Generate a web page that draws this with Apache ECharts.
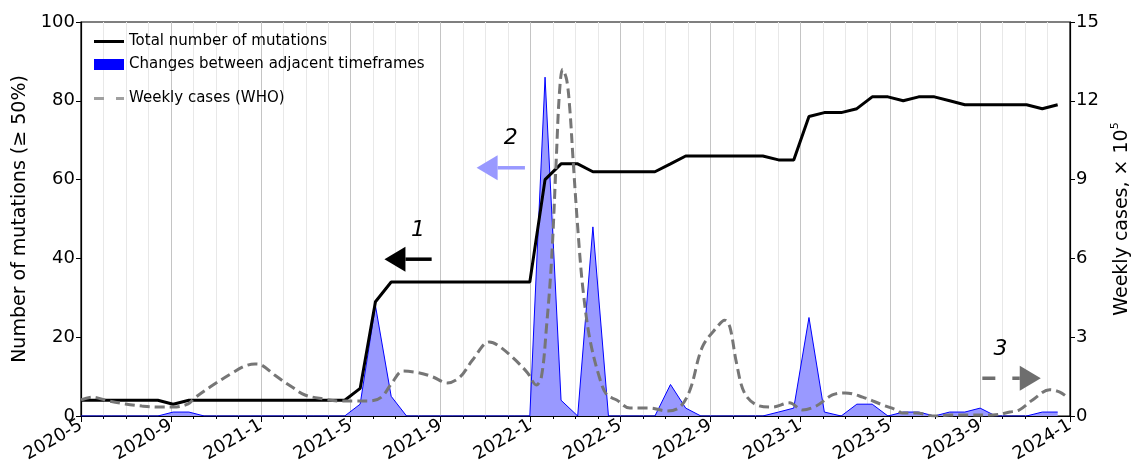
<!DOCTYPE html>
<html>
<head>
<meta charset="utf-8">
<script src="https://cdn.jsdelivr.net/npm/echarts@6/dist/echarts.min.js"></script>
<style>
  html, body { margin: 0; padding: 0; background: #fff; }
  #chart { width: 1131px; height: 471px; }
</style>
</head>
<body>
<div id="chart"></div>
<script>
// timeframes (3 weeks apart)
const frameDates = [
  '2020-05-01', '2020-05-22', '2020-06-12', '2020-07-03', '2020-07-24', '2020-08-14',
  '2020-09-04', '2020-09-25', '2020-10-16', '2020-11-06', '2020-11-27', '2020-12-18',
  '2021-01-08', '2021-01-29', '2021-02-19', '2021-03-12', '2021-04-02', '2021-04-23',
  '2021-05-14', '2021-06-04', '2021-06-25', '2021-07-16', '2021-08-06', '2021-08-27',
  '2021-09-17', '2021-10-08', '2021-10-29', '2021-11-19', '2021-12-10', '2021-12-31',
  '2022-01-21', '2022-02-11', '2022-03-04', '2022-03-25', '2022-04-15', '2022-05-06',
  '2022-05-27', '2022-06-17', '2022-07-08', '2022-07-29', '2022-08-19', '2022-09-09',
  '2022-09-30', '2022-10-21', '2022-11-11', '2022-12-02', '2022-12-23', '2023-01-13',
  '2023-02-03', '2023-02-24', '2023-03-17', '2023-04-07', '2023-04-28', '2023-05-19',
  '2023-06-09', '2023-06-30', '2023-07-21', '2023-08-11', '2023-09-01', '2023-09-22',
  '2023-10-13', '2023-11-03', '2023-11-24', '2023-12-15'
]
const totalMutations = [
  4, 4, 4, 4, 4, 4, 3, 4, 4, 4, 4, 4, 4, 4, 4, 4, 4, 4, 7, 29, 34, 34, 34, 34,
  34, 34, 34, 34, 34, 34, 60, 64, 64, 62, 62, 62, 62, 62, 64, 66, 66, 66, 66, 66,
  66, 65, 65, 76, 77, 77, 78, 81, 81, 80, 81, 81, 80, 79, 79, 79, 79, 79, 78, 79
]
const changes = [
  0, 0, 0, 0, 0, 0, 1, 1, 0, 0, 0, 0, 0, 0, 0, 0, 0, 0, 3, 28, 5, 0, 0, 0,
  0, 0, 0, 0, 0, 0, 86, 4, 0, 48, 0, 0, 0, 0, 8, 2, 0, 0, 0, 0,
  0, 1, 2, 25, 1, 0, 3, 3, 0, 1, 1, 0, 1, 1, 2, 0, 0, 0, 1, 1
]

// weekly cases (WHO), x 10^5
const weekDates = [
  '2020-05-01', '2020-05-16', '2020-06-07', '2020-06-30', '2020-07-23', '2020-08-14',
  '2020-09-04', '2020-09-24', '2020-10-03', '2020-10-26', '2020-11-23', '2020-12-10',
  '2020-12-24', '2021-01-02', '2021-01-20', '2021-02-12', '2021-02-28', '2021-03-25',
  '2021-04-17', '2021-05-04', '2021-05-27', '2021-06-12', '2021-06-26', '2021-07-11',
  '2021-08-03', '2021-08-21', '2021-09-10', '2021-09-27', '2021-10-14', '2021-11-06',
  '2021-11-17', '2021-12-08', '2021-12-28', '2022-01-09', '2022-01-16', '2022-01-23',
  '2022-01-30', '2022-02-05', '2022-02-09', '2022-02-13', '2022-02-18', '2022-02-22',
  '2022-02-26', '2022-03-04', '2022-03-11', '2022-03-21', '2022-04-04', '2022-04-13',
  '2022-04-26', '2022-05-14', '2022-06-10', '2022-07-03', '2022-07-21', '2022-08-04',
  '2022-08-21', '2022-09-10', '2022-09-20', '2022-09-27', '2022-10-06', '2022-10-17',
  '2022-11-03', '2022-11-24', '2022-12-17', '2023-01-04', '2023-01-23', '2023-02-13',
  '2023-03-01', '2023-03-25', '2023-04-21', '2023-05-10', '2023-05-18', '2023-06-06',
  '2023-07-01', '2023-07-21', '2023-08-13', '2023-09-18', '2023-10-11', '2023-10-24',
  '2023-11-11', '2023-12-04', '2023-12-18', '2023-12-28'
]
const weeklyCases = [
  0.61, 0.72, 0.58, 0.46, 0.38, 0.34, 0.34, 0.46, 0.69, 1.14, 1.64, 1.9,
  1.98, 1.94, 1.56, 1.1, 0.8, 0.65, 0.57, 0.57, 0.57, 0.72, 1.26, 1.71,
  1.64, 1.49, 1.26, 1.49, 2.13, 2.82, 2.7, 2.21, 1.64, 1.18, 1.49, 3.39,
  5.94, 9.75, 12.3, 13.2, 12.8, 11.65, 9.75, 7.2, 4.9, 2.9, 1.37, 0.8,
  0.61, 0.3, 0.3, 0.19, 0.34, 1.0, 2.63, 3.39, 3.65, 3.39, 2.02, 0.88,
  0.42, 0.34, 0.5, 0.23, 0.38, 0.8, 0.88, 0.72, 0.42, 0.23, 0.11, 0.11,
  0.0, 0.04, 0.04, 0.04, 0.15, 0.23, 0.61, 1.0, 0.91, 0.72
]

const xTickMonths = [0, 4, 8, 12, 16, 20, 24, 28, 32, 36, 40, 44]

// numbered arrows: label, tail/tip month, value on the left axis
const arrows = [
  { label: '1', tail: 15.6, tip: 13.5, y: 39.8, color: '#000000', dashed: false },
  { label: '2', tail: 19.75, tip: 17.6, y: 63, color: '#9999ff', dashed: false },
  { label: '3', tail: 40.1, tip: 42.7, y: 9.6, color: '#6e6e6e', dashed: true }
]

const FONT = 'DejaVu Sans'

// months since 2020-05-01
const toMonth = s => {
  const [y, m, d] = s.split('-').map(Number)
  const dim = new Date(y, m, 0).getDate()
  return (y - 2020) * 12 + (m - 5) + (d - 1) / dim
}
const monthLabel = v => {
  const k = 4 + v
  return (2020 + Math.floor(k / 12)) + '-' + ((k % 12) + 1)
}

const chart = echarts.init(document.getElementById('chart'), null, { renderer: 'canvas' })

const option = {
  animation: false,
  textStyle: { fontFamily: FONT },
  grid: {
    left: 81, right: 61, top: 22, bottom: 55,
    outerBoundsMode: 'none', containLabel: false,
    show: true, borderColor: '#000', borderWidth: 1.2, backgroundColor: 'transparent'
  },
  legend: [
    {
      orient: 'vertical', left: 89, top: 29, itemWidth: 30, itemHeight: 11, itemGap: 8,
      textStyle: { fontFamily: FONT, fontSize: 15, color: '#000' },
      data: [
        { name: 'Total number of mutations', icon: 'path://M0,0H30V3H0Z', itemStyle: { color: '#000' } },
        { name: 'Changes between adjacent timeframes', icon: 'rect', itemStyle: { color: '#0000ff' } }
      ]
    },
    {
      orient: 'vertical', left: 89, top: 86, itemWidth: 30, itemHeight: 11,
      textStyle: { fontFamily: FONT, fontSize: 15, color: '#000' },
      data: [
        { name: 'Weekly cases (WHO)', icon: 'path://M0,0H10V3H0Z M22,0H30V3H22Z', itemStyle: { color: '#a0a0a0' } }
      ]
    }
  ],
  xAxis: {
    type: 'value', min: 0, max: 44, interval: 4,
    axisLine: { lineStyle: { color: '#000', width: 1.2 } },
    axisTick: { length: 6, lineStyle: { color: '#000' } },
    minorTick: { show: true, splitNumber: 4, length: 3, lineStyle: { color: '#000' } },
    splitLine: { show: true, lineStyle: { color: '#c4c4c4', width: 1 } },
    minorSplitLine: { show: true, lineStyle: { color: '#e8e8e8', width: 1 } },
    axisLabel: {
      rotate: 30, fontSize: 18, color: '#000', margin: 8,
      customValues: xTickMonths,
      formatter: monthLabel
    }
  },
  yAxis: [
    {
      type: 'value', min: 0, max: 100, interval: 20, position: 'left',
      name: 'Number of mutations (≥ 50%)', nameLocation: 'middle', nameGap: 43,
      nameTextStyle: { fontSize: 19, color: '#000' },
      axisLine: { show: true, lineStyle: { color: '#000', width: 1.2 } },
      axisTick: { show: true, length: 5, lineStyle: { color: '#000' } },
      splitLine: { show: false },
      axisLabel: { fontSize: 18, color: '#000', margin: 6 }
    },
    {
      type: 'value', min: 0, max: 15, interval: 3, position: 'right',
      name: 'Weekly cases, × 10{sup|5}', nameLocation: 'middle', nameGap: 40, nameRotate: 90,
      nameTextStyle: {
        fontSize: 19, color: '#000', lineHeight: 24,
        rich: { sup: { fontSize: 11, verticalAlign: 'top', lineHeight: 24, color: '#000' } }
      },
      axisLine: { show: true, lineStyle: { color: '#000', width: 1.2 } },
      axisTick: { show: true, length: 5, lineStyle: { color: '#000' } },
      splitLine: { show: false },
      axisLabel: { fontSize: 18, color: '#000', margin: 6 }
    }
  ],
  series: [
    {
      name: 'Changes between adjacent timeframes',
      type: 'line', yAxisIndex: 0, symbol: 'none', z: 1,
      lineStyle: { color: '#0000ff', width: 1 },
      itemStyle: { color: '#0000ff' },
      areaStyle: { color: '#9999ff', opacity: 1 },
      data: frameDates.map((d, i) => [toMonth(d), changes[i]])
    },
    {
      name: 'Total number of mutations',
      type: 'line', yAxisIndex: 0, symbol: 'none', z: 3,
      lineStyle: { color: '#000', width: 3 },
      itemStyle: { color: '#000' },
      data: frameDates.map((d, i) => [toMonth(d), totalMutations[i]])
    },
    {
      name: 'Weekly cases (WHO)',
      type: 'line', yAxisIndex: 1, symbol: 'none', z: 4,
      smooth: 0.35,
      lineStyle: { color: '#767676', width: 3, type: [10, 5] },
      itemStyle: { color: '#767676' },
      data: weekDates.map((d, i) => [toMonth(d), weeklyCases[i]])
    }
  ]
}

chart.setOption(option)

// arrows placed in data coordinates
const toPx = p => chart.convertToPixel({ xAxisIndex: 0, yAxisIndex: 0 }, p)
const graphics = []
arrows.forEach(a => {
  const tail = toPx([a.tail, a.y])
  const tip = toPx([a.tip, a.y])
  const dir = Math.sign(tip[0] - tail[0])
  const headLen = 21
  const half = 12.5
  const base = tip[0] - dir * headLen
  graphics.push({
    type: 'polygon', z: 10,
    shape: { points: [[tip[0], tip[1]], [base, tip[1] - half], [base, tip[1] + half]] },
    style: { fill: a.color }
  })
  graphics.push({
    type: 'line', z: 10,
    shape: { x1: tail[0], y1: tail[1], x2: base, y2: tip[1] },
    style: { stroke: a.color, lineWidth: 3.5, lineDash: a.dashed ? [13, 17] : null }
  })
  graphics.push({
    type: 'text', z: 10,
    x: (tail[0] + tip[0]) / 2 + (a.dashed ? -11 : 10), y: tip[1] - 18,
    style: {
      text: a.label, fontSize: 22, fontStyle: 'italic', fontFamily: FONT,
      fill: '#000', align: 'center', verticalAlign: 'bottom'
    }
  })
})
chart.setOption({ graphic: graphics })
</script>
</body>
</html>
